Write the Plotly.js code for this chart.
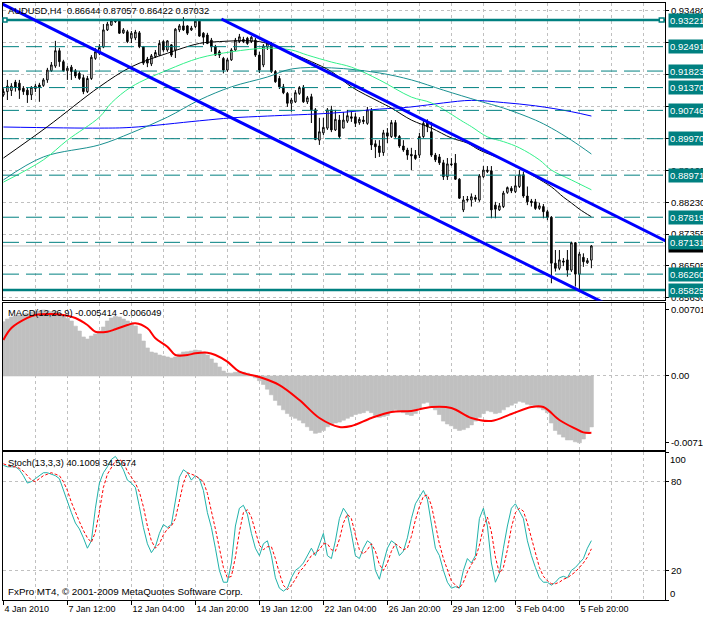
<!DOCTYPE html>
<html><head><meta charset="utf-8">
<script src="https://cdn.plot.ly/plotly-3.0.1.min.js"></script>
<style>html,body{margin:0;padding:0;background:#fff;}#chart{width:703px;height:617px;}</style>
</head><body><div id="chart"></div>
<script>
// ---------- DATA ----------
const symbolTitle = "AUDUSD,H4  0.86644 0.87057 0.86422 0.87032";
const macdTitle = "MACD(12,26,9) -0.005414 -0.006049";
const stochTitle = "Stoch(13,3,3) 40.1009 34.5674";
const copyright = "FxPro MT4, \u00a9 2001-2009 MetaQuotes Software Corp.";

const open = [0.9117,0.9126,0.9129,0.9152,0.9149,0.9135,0.9130,0.9117,0.9134,0.9144,
0.9143,0.9158,0.9183,0.9196,0.9238,0.9208,0.9183,0.9193,0.9183,0.9176,
0.9164,0.9126,0.9162,0.9217,0.9231,0.9248,0.9295,0.9308,0.9320,0.9319,
0.9287,0.9290,0.9272,0.9273,0.9287,0.9249,0.9215,0.9202,0.9222,0.9226,
0.9263,0.9240,0.9254,0.9240,0.9295,0.9306,0.9306,0.9295,0.9304,0.9319,
0.9286,0.9281,0.9267,0.9249,0.9235,0.9217,0.9185,0.9213,0.9240,0.9263,
0.9269,0.9272,0.9263,0.9267,0.9226,0.9199,0.9248,0.9256,0.9181,0.9162,
0.9139,0.9121,0.9094,0.9098,0.9121,0.9138,0.9098,0.9112,0.9076,0.8993,
0.9013,0.9026,0.9076,0.9021,0.9048,0.9026,0.9045,0.9057,0.9057,0.9041,
0.9048,0.9039,0.9074,0.8983,0.8977,0.8959,0.9013,0.9003,0.9041,0.9003,
0.8977,0.8966,0.8954,0.8952,0.8952,0.9003,0.9043,0.9016,0.8952,0.8947,
0.8931,0.8893,0.8928,0.8930,0.8886,0.8802,0.8831,0.8829,0.8836,0.8829,
0.8893,0.8907,0.8909,0.8815,0.8802,0.8811,0.8850,0.8861,0.8852,0.8866,
0.8898,0.8840,0.8826,0.8824,0.8806,0.8811,0.8797,0.8782,0.8656,0.8642,
0.8662,0.8665,0.8637,0.8712,0.8626,0.8672,0.8657,0.86644];
const high = [0.9135,0.9158,0.9149,0.9158,0.9158,0.9141,0.9136,0.9141,0.9147,0.9150,
0.9163,0.9191,0.9207,0.9265,0.9245,0.9213,0.9196,0.9199,0.9188,0.9182,
0.9172,0.9169,0.9226,0.9245,0.9256,0.9311,0.9317,0.9325,0.9324,0.9322,
0.9300,0.9295,0.9292,0.9295,0.9292,0.9251,0.9221,0.9229,0.9240,0.9267,
0.9267,0.9267,0.9256,0.9300,0.9311,0.9330,0.9308,0.9306,0.9325,0.9323,
0.9289,0.9287,0.9273,0.9254,0.9240,0.9221,0.9218,0.9245,0.9273,0.9284,
0.9276,0.9276,0.9278,0.9273,0.9235,0.9256,0.9265,0.9262,0.9185,0.9169,
0.9147,0.9125,0.9109,0.9130,0.9141,0.9144,0.9114,0.9120,0.9081,0.9054,
0.9054,0.9081,0.9087,0.9076,0.9062,0.9070,0.9076,0.9070,0.9067,0.9056,
0.9059,0.9084,0.9081,0.8993,0.8993,0.9021,0.9026,0.9048,0.9048,0.9007,
0.8993,0.8972,0.8972,0.8966,0.9013,0.9048,0.9050,0.9043,0.8958,0.8955,
0.8939,0.8944,0.8944,0.8955,0.8889,0.8840,0.8840,0.8847,0.8843,0.8900,
0.8922,0.8922,0.8922,0.8824,0.8821,0.8854,0.8866,0.8867,0.8895,0.8911,
0.8907,0.8866,0.8832,0.8832,0.8821,0.8818,0.8802,0.8785,0.8692,0.8692,
0.8670,0.8692,0.8715,0.8714,0.8687,0.8683,0.8670,0.87057];
const low = [0.9112,0.9103,0.9114,0.9126,0.9106,0.9117,0.9095,0.9103,0.9125,0.9098,
0.9139,0.9150,0.9180,0.9191,0.9194,0.9181,0.9158,0.9158,0.9163,0.9158,
0.9119,0.9122,0.9158,0.9213,0.9226,0.9245,0.9292,0.9306,0.9314,0.9284,
0.9284,0.9259,0.9259,0.9267,0.9245,0.9199,0.9193,0.9196,0.9218,0.9224,
0.9235,0.9235,0.9221,0.9218,0.9289,0.9292,0.9281,0.9292,0.9300,0.9276,
0.9254,0.9256,0.9235,0.9224,0.9218,0.9176,0.9180,0.9210,0.9237,0.9259,
0.9259,0.9254,0.9259,0.9221,0.9177,0.9193,0.9240,0.9177,0.9150,0.9133,
0.9119,0.9084,0.9071,0.9095,0.9117,0.9095,0.9092,0.9040,0.8993,0.8980,
0.9007,0.9021,0.9015,0.9018,0.8999,0.9026,0.9040,0.9043,0.9029,0.9035,
0.9037,0.9035,0.8966,0.8944,0.8947,0.8950,0.8985,0.8999,0.8999,0.8972,
0.8961,0.8939,0.8911,0.8939,0.8944,0.8999,0.9015,0.8947,0.8933,0.8925,
0.8884,0.8884,0.8922,0.8884,0.8832,0.8796,0.8824,0.8811,0.8824,0.8824,
0.8889,0.8903,0.8779,0.8779,0.8799,0.8807,0.8846,0.8848,0.8848,0.8862,
0.8835,0.8815,0.8811,0.8802,0.8802,0.8779,0.8774,0.8601,0.8633,0.8637,
0.8648,0.8619,0.8632,0.8592,0.8583,0.8646,0.8654,0.86422];
const close = [0.9126,0.9141,0.9141,0.9138,0.9130,0.9126,0.9117,0.9138,0.9141,0.9138,
0.9158,0.9185,0.9199,0.9238,0.9208,0.9183,0.9190,0.9181,0.9169,0.9162,
0.9126,0.9162,0.9220,0.9235,0.9247,0.9295,0.9311,0.9320,0.9318,0.9286,
0.9295,0.9263,0.9286,0.9289,0.9249,0.9204,0.9204,0.9224,0.9233,0.9258,
0.9240,0.9265,0.9226,0.9297,0.9306,0.9295,0.9286,0.9300,0.9319,0.9278,
0.9275,0.9258,0.9249,0.9226,0.9226,0.9185,0.9213,0.9240,0.9267,0.9276,
0.9263,0.9258,0.9275,0.9226,0.9185,0.9251,0.9259,0.9181,0.9153,0.9139,
0.9123,0.9094,0.9103,0.9123,0.9137,0.9098,0.9109,0.9076,0.8995,0.9016,
0.9028,0.9076,0.9021,0.9050,0.9003,0.9048,0.9060,0.9053,0.9039,0.9050,
0.9044,0.9076,0.8980,0.8975,0.8959,0.9013,0.9004,0.9041,0.9003,0.8977,
0.8966,0.8952,0.8950,0.8943,0.9003,0.9039,0.9030,0.8952,0.8939,0.8931,
0.8893,0.8928,0.8926,0.8886,0.8834,0.8829,0.8829,0.8838,0.8831,0.8895,
0.8911,0.8911,0.8802,0.8804,0.8813,0.8848,0.8863,0.8854,0.8868,0.8898,
0.8840,0.8824,0.8822,0.8806,0.8813,0.8797,0.8781,0.8656,0.8642,0.8665,
0.8659,0.8637,0.8712,0.8626,0.8681,0.8660,0.8663,0.87032];

// moving averages, read at selected bars
const blackMABars = [0,11,24,32,41,49,54,62,66,72,77,82,87,94,97,102,107,112,116,119,125,129,133,137,140,142,144,147];
const blackMA = [0.8944,0.9030,0.9139,0.9194,0.9231,0.9258,0.9263,0.9265,0.9258,0.9231,0.9208,0.9181,0.9139,0.9098,0.9081,0.9048,0.9026,0.8999,0.8985,0.8966,0.8939,0.8917,0.8892,0.8865,0.8837,0.8821,0.8804,0.8783];
const greenMABars = [0,10,16,24,27,32,41,49,57,66,72,76,82,87,94,102,107,115,117,121,125,129,134,137,142,147];
const greenMA = [0.8878,0.8939,0.8993,0.9056,0.9095,0.9139,0.9185,0.9218,0.9235,0.9245,0.9240,0.9226,0.9207,0.9193,0.9158,0.9111,0.9095,0.9043,0.9030,0.9002,0.8989,0.8972,0.8939,0.8911,0.8884,0.8857];
const tealMABars = [0,10,24,32,41,49,57,66,72,82,94,102,110,119,125,133,137,142,147];
const tealMA = [0.8884,0.8947,0.8980,0.9013,0.9056,0.9103,0.9139,0.9166,0.9188,0.9191,0.9177,0.9158,0.9130,0.9100,0.9081,0.9048,0.9026,0.8993,0.8955];
const blueMABars = [0,24,32,49,57,66,82,94,102,110,117,125,133,142,147];
const blueMA = [0.9029,0.9026,0.9028,0.9046,0.9054,0.9059,0.9067,0.9078,0.9084,0.9095,0.9102,0.9096,0.9087,0.9071,0.9059];

// horizontal levels
const levelPrices = [0.93221,0.92491,0.91823,0.91370,0.90746,0.89970,0.88971,0.87819,0.87131,0.86260,0.85825];
const levelLabels = ["0.93221","0.92491","0.91823","0.91370","0.90746","0.89970","0.88971","0.87819","0.87131","0.86260","0.85825"];
const levelSolid = [true,false,false,false,false,false,false,false,false,false,true];
const bidPrice = 0.87032;

// channel trend lines (anchor bars / prices)
const lowerLineBars = [8.175, 148.35];
const lowerLinePrices = [0.93202, 0.85571];
const upperLineBars = [69.175, 165.43];
const upperLinePrices = [0.92446, 0.87176];

// MACD
const macdHist = [0.00577,0.00606,0.00627,0.00638,0.00649,0.00659,0.00670,0.00681,0.00691,0.00691,
0.00702,0.00695,0.00685,0.00690,0.00665,0.00640,0.00615,0.00585,0.00530,0.00478,
0.00415,0.00393,0.00425,0.00447,0.00478,0.00521,0.00585,0.00617,0.00633,0.00627,
0.00606,0.00585,0.00564,0.00532,0.00447,0.00372,0.00298,0.00255,0.00245,0.00223,
0.00213,0.00202,0.00191,0.00202,0.00234,0.00255,0.00258,0.00266,0.00276,0.00271,
0.00255,0.00223,0.00181,0.00138,0.00096,0.00053,0.00032,0.00030,0.00040,0.00050,
0.00040,0.00030,0.00010,-0.00020,-0.00050,-0.00090,-0.00140,-0.00200,-0.00260,-0.00310,
-0.00360,-0.00400,-0.00430,-0.00450,-0.00470,-0.00500,-0.00540,-0.00580,-0.00610,-0.00600,
-0.00580,-0.00540,-0.00520,-0.00500,-0.00490,-0.00470,-0.00450,-0.00430,-0.00410,-0.00400,
-0.00390,-0.00370,-0.00390,-0.00420,-0.00440,-0.00430,-0.00420,-0.00380,-0.00360,-0.00370,
-0.00390,-0.00410,-0.00420,-0.00400,-0.00340,-0.00290,-0.00280,-0.00320,-0.00360,-0.00410,
-0.00480,-0.00510,-0.00530,-0.00560,-0.00580,-0.00570,-0.00550,-0.00520,-0.00480,-0.00440,
-0.00400,-0.00370,-0.00380,-0.00400,-0.00390,-0.00360,-0.00330,-0.00310,-0.00290,-0.00270,
-0.00280,-0.00300,-0.00310,-0.00330,-0.00340,-0.00360,-0.00390,-0.00500,-0.00580,-0.00620,
-0.00650,-0.00680,-0.00680,-0.00700,-0.00710,-0.00670,-0.00610,-0.005414];
const macdSigBars = [0,2,6,8,12,15,18,21,23,26,28,31,33,36,38,41,43,46,48,51,53,56,59,64,69,74,79,84,87,92,97,102,107,112,117,122,127,132,135,139,143,145,147];
const macdSignal = [0.00383,0.00510,0.00617,0.00649,0.00659,0.00649,0.00617,0.00542,0.00471,0.00471,0.00497,0.00542,0.00560,0.00507,0.00401,0.00312,0.00223,0.00223,0.00241,0.00248,0.00223,0.00152,0.00046,-0.00011,-0.00096,-0.00255,-0.00447,-0.00542,-0.00532,-0.00447,-0.00383,-0.00372,-0.00330,-0.00340,-0.00447,-0.00478,-0.00404,-0.00330,-0.00330,-0.00468,-0.00560,-0.00600,-0.006049];

// Stochastic
const stochMain = [91,90,90,90,88,84,79,80,82,84,
86,86,85,84,82,74,66,59,52,48,
42,35,40,62,79,86,90,95,97,93,
88,81,79,76,63,49,38,32,36,45,
51,49,51,66,83,88,86,81,84,82,
74,59,49,35,20,12,12,25,50,62,
64,58,45,35,30,38,40,30,15,8,
6,8,15,20,22,25,30,35,30,38,
45,30,28,40,55,62,58,45,30,28,
35,40,38,20,14,25,35,40,38,30,
33,42,55,65,70,74,68,50,35,30,
20,12,8,9,8,20,28,25,30,55,
62,50,25,12,18,35,50,62,65,60,
55,40,30,22,15,12,12,10,12,15,
16,15,20,22,25,28,35,40.1009];
const stochSignal = [92,91,90,90,89,87,84,81,80,82,
84,85,86,85,84,80,74,66,59,53,
47,42,39,46,60,76,85,90,94,95,
93,87,83,79,73,63,50,40,35,38,
44,48,50,55,67,79,86,85,84,82,
80,72,61,48,35,22,15,16,29,46,
59,61,56,46,37,34,36,36,28,18,
10,7,10,14,19,22,26,30,32,34,
38,38,34,33,41,52,58,55,44,34,
31,34,38,33,24,20,25,33,38,36,
34,35,43,54,63,70,71,64,51,38,
28,21,13,10,8,12,19,24,28,37,
49,56,46,29,18,22,34,49,59,62,
60,52,42,31,22,16,13,11,11,12,
14,15,17,19,22,25,29,34.5674];

// axes labels
const timeLabelBars = [0,16,32,48,64,80,96,112,128,144];
const timeLabels = ["4 Jan 2010","7 Jan 12:00","12 Jan 04:00","14 Jan 20:00","19 Jan 12:00","22 Jan 04:00","26 Jan 20:00","29 Jan 12:00","3 Feb 04:00","5 Feb 20:00"];
const gridBars = [8,16,24,32,40,48,56,64,72,80,88,96,104,112,120,128,136,144,152,160];
const minorGridBars = [8,24,40,56,72,88,104,120,136,152,160];
const priceTicks = [0.93480,0.92605,0.91730,0.90855,0.89980,0.89105,0.88230,0.87355,0.86483,0.85626];
const priceTickText = ["0.93480","0.92605","0.91730","0.90855","0.89980","0.89105","0.88230","0.87355","0.86505","0.85630"];
const macdTicks = [0.007018, 0, -0.0071];
const macdTickText = ["0.007018","0.00","-0.007100"];

// ---------- DRAW ----------
const bars = open.map((_, i) => i);
const FONT = "Liberation Sans, Arial, sans-serif";
const FS = 9.5;
const GRID = "#c0c0c0";
const TEAL = "#008080";

const traces = [
  {type:"candlestick", x:bars, open, high, low, close, xaxis:"x", yaxis:"y",
   increasing:{line:{color:"#000", width:1}, fillcolor:"#fff"},
   decreasing:{line:{color:"#000", width:1}, fillcolor:"#000"},
   whiskerwidth:0, hoverinfo:"skip"},
  {type:"scatter", mode:"lines", x:blueMABars, y:blueMA, xaxis:"x", yaxis:"y", line:{color:"#0000ff", width:1, shape:"spline"}, hoverinfo:"skip"},
  {type:"scatter", mode:"lines", x:tealMABars, y:tealMA, xaxis:"x", yaxis:"y", line:{color:"#1a9090", width:1, shape:"spline"}, hoverinfo:"skip"},
  {type:"scatter", mode:"lines", x:greenMABars, y:greenMA, xaxis:"x", yaxis:"y", line:{color:"#33f08a", width:1, shape:"spline"}, hoverinfo:"skip"},
  {type:"scatter", mode:"lines", x:blackMABars, y:blackMA, xaxis:"x", yaxis:"y", line:{color:"#000", width:1, shape:"spline"}, hoverinfo:"skip"},
  {type:"bar", x:bars, y:macdHist, xaxis:"x2", yaxis:"y2", width:1, marker:{color:"#c0c0c0", line:{width:0.6, color:"#c0c0c0"}}, hoverinfo:"skip"},
  {type:"scatter", mode:"lines", x:macdSigBars, y:macdSignal, xaxis:"x2", yaxis:"y2", line:{color:"#ff0000", width:2, shape:"spline"}, hoverinfo:"skip"},
  {type:"scatter", mode:"lines", x:bars, y:stochMain, xaxis:"x3", yaxis:"y3", line:{color:"#20b2aa", width:1}, hoverinfo:"skip"},
  {type:"scatter", mode:"lines", x:bars, y:stochSignal, xaxis:"x3", yaxis:"y3", line:{color:"#ff0000", width:1, dash:"3px,2px"}, hoverinfo:"skip"}
];

const xRange = [-0.1, 165.4];
const xBase = {range:xRange, showline:true, mirror:true, linecolor:"#000", linewidth:1, zeroline:false,
  showgrid:true, gridcolor:GRID, griddash:"3px,3px", gridwidth:1, fixedrange:true};

const layout = {
  width:703, height:617, margin:{l:3, r:38, t:3, b:17},
  paper_bgcolor:"#fff", plot_bgcolor:"#fff", showlegend:false, boxgap:0.45,
  font:{family:FONT, size:FS, color:"#000"},
  xaxis: Object.assign({}, xBase, {anchor:"y", tickmode:"array", tickvals:gridBars, showticklabels:false, ticks:"", rangeslider:{visible:false}}),
  xaxis2: Object.assign({}, xBase, {anchor:"y2", matches:"x", tickmode:"array", tickvals:gridBars, showticklabels:false, ticks:""}),
  xaxis3: Object.assign({}, xBase, {anchor:"y3", matches:"x", tickmode:"array", tickvals:timeLabelBars, ticktext:timeLabels,
     ticks:"outside", ticklen:4, tickcolor:"#000", ticklabelposition:"outside right", tickfont:{family:FONT, size:9},
     minor:{tickmode:"array", tickvals:minorGridBars, showgrid:true, gridcolor:GRID, griddash:"3px,3px", ticks:""}}),
  yaxis: {domain:[0.5017,1], anchor:"x", side:"right", range:[0.85538,0.93687], tickmode:"array", tickvals:priceTicks, ticktext:priceTickText,
     ticks:"outside", ticklen:3, tickcolor:"#000", showline:true, mirror:true, linecolor:"#000", zeroline:false,
     showgrid:true, gridcolor:GRID, griddash:"3px,3px", tickfont:{family:FONT, size:FS}, fixedrange:true},
  yaxis2: {domain:[0.2513,0.498], anchor:"x2", side:"right", range:[-0.007868,0.007794], tickmode:"array", tickvals:macdTicks, ticktext:macdTickText,
     ticks:"outside", ticklen:3, tickcolor:"#000", showline:true, mirror:true, linecolor:"#000", zeroline:false,
     showgrid:false, minor:{tickmode:"array", tickvals:[0], showgrid:true, gridcolor:GRID, griddash:"3px,3px", ticks:""},
     tickfont:{family:FONT, size:FS}, fixedrange:true},
  yaxis3: {domain:[0,0.2479], anchor:"x3", side:"right", range:[0,100], tickmode:"array", tickvals:[0,20,80,100], ticktext:["","20","80",""],
     ticks:"outside", ticklen:3, tickcolor:"#000", showline:true, mirror:true, linecolor:"#000", zeroline:false,
     showgrid:true, gridcolor:GRID, griddash:"3px,3px", tickfont:{family:FONT, size:FS}, fixedrange:true},
  shapes:[], annotations:[]
};

// level lines + labels
levelPrices.forEach((p, i) => {
  layout.shapes.push({type:"line", xref:"x domain", yref:"y", x0:0, x1:1, y0:p, y1:p,
    line:{color:TEAL, width: levelSolid[i] ? 2.5 : 1, dash: levelSolid[i] ? "solid" : "16px,7px"}, layer:"above"});
});
// bid line
layout.shapes.push({type:"line", xref:"x domain", yref:"y", x0:0, x1:1, y0:bidPrice, y1:bidPrice, line:{color:"#c0c0c0", width:1}, layer:"below"});

// channel lines (rays extended through the anchors)
function extend(bx, py, b0, b1) {
  const s = (py[1]-py[0])/(bx[1]-bx[0]);
  return {x0:b0, y0:py[0]+s*(b0-bx[0]), x1:b1, y1:py[0]+s*(b1-bx[0])};
}
const lo = extend(lowerLineBars, lowerLinePrices, -20, 200);
layout.shapes.push(Object.assign({type:"line", xref:"x", yref:"y", line:{color:"#0000ff", width:3}, layer:"above"}, lo));
const up = extend(upperLineBars, upperLinePrices, 54.5, 200);
layout.shapes.push(Object.assign({type:"line", xref:"x", yref:"y", line:{color:"#0000ff", width:3}, layer:"above"}, up));

// selection markers on the top level line
[[0.0, 0.006],[0.9914, 0.9985]].forEach(([a,b]) => {
  layout.shapes.push({type:"rect", xref:"x domain", yref:"y", x0:a, x1:b, y0:levelPrices[0]-0.00055, y1:levelPrices[0]+0.00055,
    line:{color:TEAL, width:1.5}, fillcolor:"#fff", layer:"above"});
});

// right-side price labels
const lblX = 1.0045;
layout.annotations.push({xref:"paper", yref:"y", x:lblX, y:bidPrice, xanchor:"left", yanchor:"middle", text:"0.87032",
  showarrow:false, bgcolor:"#000", font:{color:"#fff", family:FONT, size:FS}, borderpad:1});
levelPrices.forEach((p, i) => {
  layout.annotations.push({xref:"paper", yref:"y", x:lblX, y:p, xanchor:"left", yanchor:"middle", text:levelLabels[i],
    showarrow:false, bgcolor:TEAL, font:{color:"#fff", family:FONT, size:FS}, borderpad:1});
});
// stochastic edge labels
layout.annotations.push({xref:"paper", yref:"y3", x:lblX, y:100, yshift:-7, xanchor:"left", yanchor:"middle", text:"100", showarrow:false, font:{family:FONT, size:FS}});
layout.annotations.push({xref:"paper", yref:"y3", x:lblX, y:0, yshift:7, xanchor:"left", yanchor:"middle", text:"0", showarrow:false, font:{family:FONT, size:FS}});

// pane titles
function ptitle(text, ypx, size) {
  return {xref:"paper", yref:"paper", x:(6-3)/662, y:(600-ypx)/597, xanchor:"left", yanchor:"middle", text, showarrow:false,
    font:{family:FONT, size:size, color:"#000"}};
}
layout.annotations.push(ptitle(symbolTitle, 10.5, 9.3));
layout.annotations.push(ptitle(macdTitle, 313, 9.3));
layout.annotations.push(ptitle(stochTitle, 463, 9.3));
layout.annotations.push(ptitle(copyright, 591, 9.8));

Plotly.newPlot("chart", traces, layout, {staticPlot:true, displayModeBar:false});
</script>
</body></html>
